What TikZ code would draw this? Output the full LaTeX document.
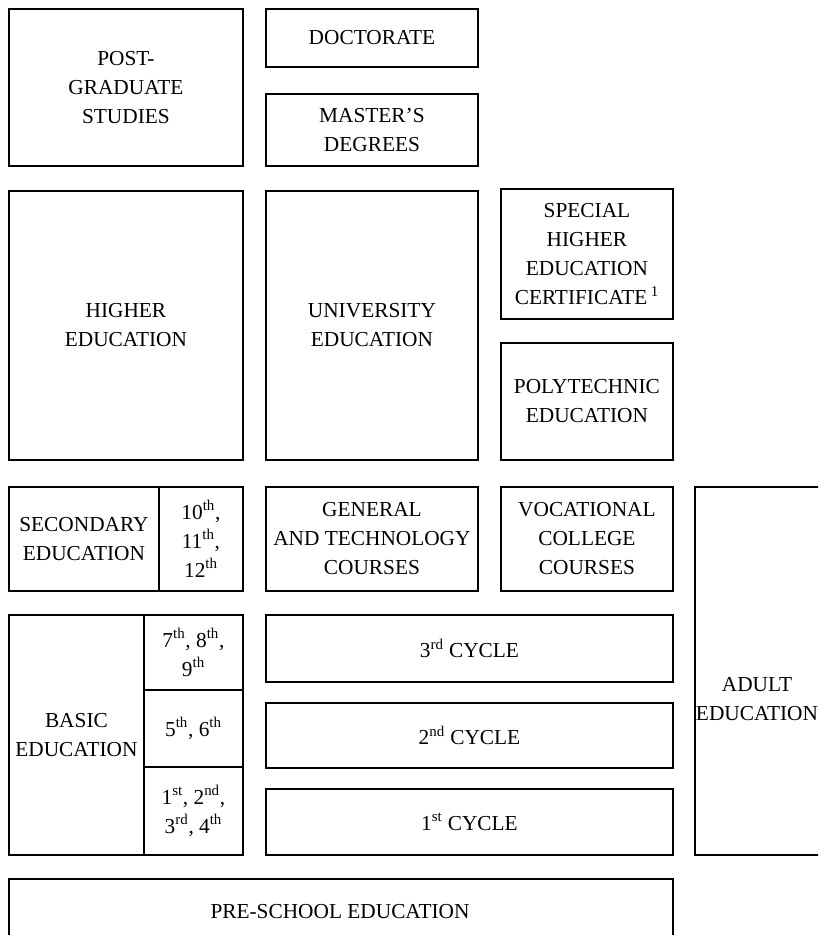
\documentclass[tikz,border=0pt]{standalone}
\usepackage{fontspec}
\setmainfont{Liberation Serif}
\newcommand\fs{\fontsize{16}{21.75}\selectfont}
\tikzset{
  box/.style={draw, line width=1.4pt, inner sep=0pt, align=center, anchor=north west, font=\fs},
  lbl/.style={inner sep=0pt, align=center, font=\fs},
}
\newcommand\mkbox[6]{\node[box, minimum width={(#4-#2)*0.75pt}, minimum height={(#5-#3)*0.75pt}] (#1) at (#2,#3) {#6};}
\newcommand\sth{\textsuperscript{th}}
\begin{document}
\begin{tikzpicture}[x=0.75pt,y=-0.75pt]
\useasboundingbox (0,0) rectangle (818,935);
\clip (0,0) rectangle (818,935);
% top rows
\mkbox{post}{8}{8}{242}{165}{POST-\\GRADUATE\\STUDIES}
\mkbox{doc}{265}{8}{477}{66}{DOCTORATE}
\mkbox{mast}{265}{93}{477}{165}{MASTER'S\\DEGREES}
% higher
\mkbox{high}{8}{190}{242}{459}{HIGHER\\EDUCATION}
\mkbox{univ}{265}{190}{477}{459}{UNIVERSITY\\EDUCATION}
\mkbox{spec}{500}{188}{672}{318}{SPECIAL\\HIGHER\\EDUCATION\\CERTIFICATE\,\textsuperscript{1}}
\mkbox{poly}{500}{342}{672}{459}{POLYTECHNIC\\EDUCATION}
% secondary
\mkbox{sec}{8}{486}{158}{590}{SECONDARY\\EDUCATION}
\mkbox{secy}{158}{486}{242}{590}{10\sth,\\11\sth,\\12\sth}
\mkbox{gen}{265}{486}{477}{590}{GENERAL\\AND TECHNOLOGY\\COURSES}
\mkbox{voc}{500}{486}{672}{590}{VOCATIONAL\\COLLEGE\\COURSES}
% adult
\mkbox{adult}{694}{486}{824}{854}{}
\node[lbl] (adultt) at (757,699) {ADULT\\EDUCATION};
% basic
\mkbox{basic}{8}{614}{143}{854}{BASIC\\EDUCATION}
\mkbox{b3}{143}{614}{242}{689}{\fontsize{16}{13.5}\selectfont 7\sth, 8\sth,\\9\sth}
\mkbox{b2}{143}{689}{242}{766}{5\sth, 6\sth}
\mkbox{b1}{143}{766}{242}{854}{\fontsize{16}{17}\selectfont 1\textsuperscript{st}, 2\textsuperscript{nd},\\3\textsuperscript{rd}, 4\sth}
% cycles
\mkbox{c3}{265}{614}{672}{681}{3\textsuperscript{rd} CYCLE}
\mkbox{c2}{265}{702}{672}{767}{2\textsuperscript{nd} CYCLE}
\mkbox{c1}{265}{788}{672}{854}{1\textsuperscript{st} CYCLE}
% pre-school
\mkbox{pre}{8}{878}{672}{950}{}
\node[lbl] (pret) at (340,912) {PRE-SCHOOL EDUCATION};
\end{tikzpicture}
\end{document}
